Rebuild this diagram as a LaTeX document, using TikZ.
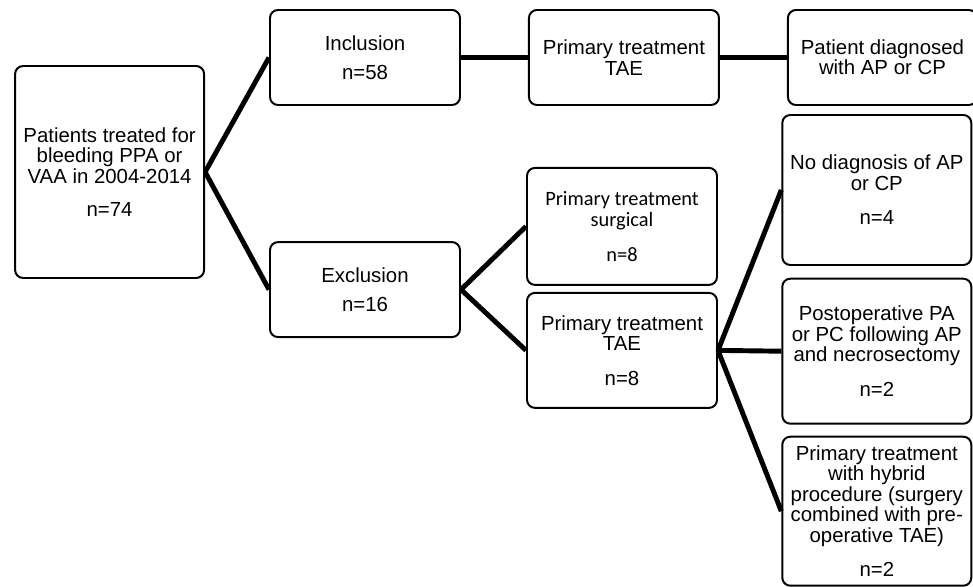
\documentclass[tikz,border=0pt]{standalone}
\usepackage{fontspec}
\setmainfont{Liberation Sans}
\newfontfamily\calfont{Carlito}
\usetikzlibrary{positioning}

\begin{document}
\begin{tikzpicture}[node distance=1.675cm, auto,
    box/.style={draw, rectangle, rounded corners=0.2cm, line width=1.4pt, align=center,
                font=\fontsize{14.5}{14.5}\selectfont, inner sep=1pt},
    wide/.style={box, minimum width=4.75cm, minimum height=2.375cm},
    side/.style={box, minimum width=4.725cm},
    link/.style={line width=3.5pt}]
    \useasboundingbox (0,0) rectangle (24.325,-14.675);

    \node[box, minimum width=4.725cm, minimum height=5.3cm] (patients) at (2.74,-4.3)
        {Patients treated for\\ bleeding PPA or\\ VAA in 2004-2014\\[9pt] n=74};
    \node[wide] (incl) at (9.125,-1.4375) {Inclusion\\[6pt] n=58};
    \node[wide] (excl) at (9.125,-7.24) {Exclusion\\[6pt] n=16};
    \node[wide, right=of incl] (tae1) {Primary treatment\\ TAE};
    \node[side, minimum height=2.375cm, right=of tae1] (diag) {Patient diagnosed\\ with AP or CP};
    \node[box, minimum width=4.75cm, minimum height=2.925cm, font=\calfont\fontsize{14.5}{15}\selectfont] (surg) at (15.55,-5.66)
        {Primary treatment\\ surgical\\[10pt] n=8};
    \node[box, minimum width=4.75cm, minimum height=2.875cm] (tae2) at (15.55,-8.76)
        {Primary treatment\\ TAE\\[10pt] n=8};
    \node[side, minimum height=3.75cm] (nodiag) at (21.92,-4.75)
        {No diagnosis of AP\\ or CP\\[10pt] n=4};
    \node[side, minimum height=3.625cm] (postop) at (21.92,-8.78)
        {Postoperative PA\\ or PC following AP\\ and necrosectomy\\[10pt] n=2};
    \node[side, minimum height=3.725cm] (hybrid) at (21.92,-12.78)
        {Primary treatment\\ with hybrid\\ procedure (surgery\\ combined with pre-\\ operative TAE)\\[10pt] n=2};

    \draw[link] (patients.east) -- (incl.west);
    \draw[link] (patients.east) -- (excl.west);
    \draw[link] (incl.east) -- (tae1.west);
    \draw[link] (tae1.east) -- (diag.west);
    \draw[link] (excl.east) -- (surg.west);
    \draw[link] (excl.east) -- (tae2.west);
    \draw[link] (tae2.east) -- (nodiag.west);
    \draw[link] (tae2.east) -- (postop.west);
    \draw[link] (tae2.east) -- (hybrid.west);
\end{tikzpicture}
\end{document}
